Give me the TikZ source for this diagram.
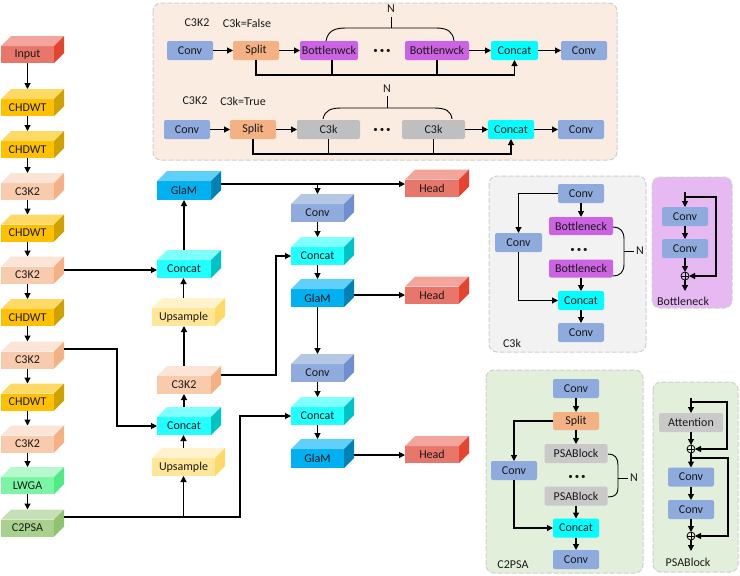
\documentclass[tikz,border=0pt]{standalone}
\usepackage{fontspec}
\setmainfont{Carlito}
\usetikzlibrary{arrows.meta,calc}
% 3D box colours: F front, T top, S side
\definecolor{inF}{HTML}{E9766A}\definecolor{inT}{HTML}{F3A59C}\definecolor{inS}{HTML}{E5452F}
\definecolor{chF}{HTML}{FFC000}\definecolor{chT}{HTML}{FFD966}\definecolor{chS}{HTML}{CFA200}
\definecolor{ckF}{HTML}{F8CBAD}\definecolor{ckT}{HTML}{FCE4D6}\definecolor{ckS}{HTML}{F4B183}
\definecolor{lwF}{HTML}{7CF4A6}\definecolor{lwT}{HTML}{B6F9CC}\definecolor{lwS}{HTML}{4FE985}
\definecolor{c2F}{HTML}{A9D18E}\definecolor{c2T}{HTML}{C5E0B4}\definecolor{c2S}{HTML}{8FC46E}
\definecolor{glF}{HTML}{00B0F0}\definecolor{glT}{HTML}{5ED0FA}\definecolor{glS}{HTML}{0082B4}
\definecolor{ccF}{HTML}{22FFFF}\definecolor{ccT}{HTML}{80FFFF}\definecolor{ccS}{HTML}{00C4C4}
\definecolor{upF}{HTML}{FFE699}\definecolor{upT}{HTML}{FFF2CC}\definecolor{upS}{HTML}{FFD966}
\definecolor{cvF}{HTML}{8FAADC}\definecolor{cvT}{HTML}{B4C7E7}\definecolor{cvS}{HTML}{6F8FCF}
% flat colours
\definecolor{convC}{HTML}{8FAADC}
\definecolor{splitC}{HTML}{F4B183}
\definecolor{bnC}{HTML}{CB63E3}
\definecolor{ckC}{HTML}{BFBFBF}
\definecolor{psaC}{HTML}{C9C9C9}
\definecolor{catC}{HTML}{00FFFF}
% panels
\definecolor{peachP}{HTML}{FBECE2}
\definecolor{grayP}{HTML}{F2F2F2}
\definecolor{purpleP}{HTML}{E7B9F3}
\definecolor{greenP}{HTML}{E2EFDA}
\definecolor{panelB}{HTML}{CFCFCF}
\definecolor{txt}{HTML}{1A1A1A}

\tikzset{
  cubefront/.style={rectangle, inner sep=0pt, outer sep=0pt},
  flat/.style={rectangle, rounded corners=2pt, inner sep=0pt, outer sep=0pt, minimum height=19pt, minimum width=46pt},
  conn/.style={line width=1.1pt},
  arr/.style={conn, -{Triangle[length=6pt,width=6pt]}},
  bracel/.style={line width=0.9pt},
  panel/.style={draw=panelB, dash pattern=on 5pt off 2pt, line width=1pt, rounded corners=8pt},
  oplus/.style={circle, draw, line width=0.8pt, minimum size=8pt, inner sep=0pt, outer sep=0pt,
    path picture={\draw[line width=0.8pt] (path picture bounding box.north) -- (path picture bounding box.south)
      (path picture bounding box.west) -- (path picture bounding box.east);}},
  lbl/.style={inner sep=0pt},
}

% #1 name, #2 x, #3 y, #4 width, #5 height, #6 colour prefix, #7 text
\newcommand\cubebox[7]{%
  \node[cubefront, fill=#6F, minimum width=#4pt, minimum height=#5pt] (#1) at (#2,#3) {#7};
  \fill[#6T] (#1.north west) -- (#1.north east) -- ($(#1.north east)+(10,-10)$) -- ($(#1.north west)+(10,-10)$) -- cycle;
  \fill[#6S] (#1.north east) -- (#1.south east) -- ($(#1.south east)+(10,-10)$) -- ($(#1.north east)+(10,-10)$) -- cycle;
  \coordinate (#1-t) at ($(#1.north)+(0,-10)$);
}

\begin{document}
\begin{tikzpicture}[x=1pt, y=-1pt, font=\fontsize{12}{14}\selectfont, text=txt]
\useasboundingbox (0,0) rectangle (740,576);
\fill[white] (0,0) rectangle (740,576);

% ---------------- panels ----------------
\draw[panel, fill=peachP] (153,3) rectangle (617,160);
\draw[panel, fill=grayP] (489,176) rectangle (646,352);
\draw[panel, fill=purpleP] (652,177) rectangle (732,308);
\draw[panel, fill=greenP] (486,370) rectangle (643,573);
\draw[panel, fill=greenP] (653,382) rectangle (738,572);

% ---------------- left column ----------------
\cubebox{in0}{27.5}{54.5}{53}{17}{in}{Input}
\cubebox{ch1}{27.5}{107.5}{53}{17}{ch}{CHDWT}
\cubebox{ch2}{27.5}{149.5}{53}{17}{ch}{CHDWT}
\cubebox{k1}{27.5}{191.5}{53}{17}{ck}{C3K2}
\cubebox{ch3}{27.5}{233}{53}{17}{ch}{CHDWT}
\cubebox{k2}{27.5}{275}{53}{17}{ck}{C3K2}
\cubebox{ch4}{27.5}{317.5}{53}{17}{ch}{CHDWT}
\cubebox{k3}{27.5}{360}{53}{17}{ck}{C3K2}
\cubebox{ch5}{27.5}{402}{53}{17}{ch}{CHDWT}
\cubebox{k4}{27.5}{444}{53}{17}{ck}{C3K2}
\cubebox{lw}{27.5}{485.5}{53}{17}{lw}{LWGA}
\cubebox{c2}{27.5}{528}{53}{17}{c2}{C2PSA}

\foreach \a/\b in {in0/ch1, ch1/ch2, ch2/k1, k1/ch3, ch3/k2, k2/ch4, ch4/k3, k3/ch5, ch5/k4, k4/lw, lw/c2}
  \draw[arr] (\a) -- (\b-t);

% ---------------- middle column ----------------
\cubebox{gl1}{184}{190.5}{54}{19}{gl}{GlaM}
\cubebox{cc1}{184}{269}{54}{18}{cc}{Concat}
\cubebox{up1}{183.5}{317}{63}{18}{up}{Upsample}
\cubebox{km}{184}{385}{54}{18}{ck}{C3K2}
\cubebox{cc2}{184}{426}{54}{18}{cc}{Concat}
\cubebox{up2}{183.5}{467}{63}{18}{up}{Upsample}

% ---------------- right column ----------------
\cubebox{cv1}{317.5}{213}{53}{18}{cv}{Conv}
\cubebox{cr1}{317.5}{256}{53}{18}{cc}{Concat}
\cubebox{gr1}{317.5}{298}{53}{18}{gl}{GlaM}
\cubebox{cv2}{317.5}{373}{53}{18}{cv}{Conv}
\cubebox{cr2}{317.5}{416}{53}{18}{cc}{Concat}
\cubebox{gr2}{317.5}{458.5}{53}{19}{gl}{GlaM}

\cubebox{hd1}{432}{188}{54}{17}{in}{Head}
\cubebox{hd2}{432}{295}{54}{17}{in}{Head}
\cubebox{hd3}{432}{454.5}{54}{17}{in}{Head}

% ---------------- main connectors ----------------
\coordinate (k2o) at ($(k2.east)+(10,-5)$);
\draw[arr] (k2o) -- (k2o -| cc1.west);
\coordinate (k3o) at ($(k3.east)+(10,-11)$);
\draw[arr] (k3o) -| ($(cc2.west)+(-40,0)$) -- (cc2.west);
\coordinate (c2o) at ($(c2.east)+(10,-11)$);
\draw[arr] (c2o) -| ($(cr2.west)+(-51,0)$) -- (cr2.west);
\draw[arr] (up2.south |- c2o) -- (up2.south);
\draw[arr] (up2-t) -- (up2-t |- cc2.south);
\draw[arr] (cc2-t) -- (km.south);
\draw[arr] (km-t) -- (km-t |- up1.south);
\draw[arr] (up1-t) -- (up1-t |- cc1.south);
\draw[arr] (cc1-t) -- (gl1.south);
\coordinate (kmo) at ($(km.east)+(10,-10)$);
\draw[arr] (kmo) -| ($(cr1.west)+(-15,0)$) -- (cr1.west);
\coordinate (g1o) at ($(gl1.east)+(10,-6.5)$);
\draw[arr] (g1o) -- (g1o -| hd1.west);
\draw[arr] (cv1-t |- g1o) -- (cv1-t);
\draw[arr] (cv1) -- (cr1-t);
\draw[arr] (cr1) -- (gr1-t);
\coordinate (gr1o) at ($(gr1.east)+(10,-3)$);
\draw[arr] (gr1o) -- (gr1o -| hd2.west);
\draw[arr] (gr1) -- (cv2-t);
\draw[arr] (cv2) -- (cr2-t);
\draw[arr] (cr2) -- (gr2-t);
\coordinate (gr2o) at ($(gr2.east)+(10,-3.5)$);
\draw[arr] (gr2o) -- (gr2o -| hd3.west);

% ---------------- top panel : C3K2 ----------------
\node[lbl] (la1) at (197,23) {C3K2};
\node[lbl] (la2) at (247,23) {C3k=False};
\node[flat, fill=convC] (ca1) at (190,50.5) {Conv};
\node[flat, fill=splitC] (sa1) at (256,50.5) {Split};
\node[flat, fill=bnC, minimum width=58pt] (bna) at (329,50.5) {Bottlenwck};
\node[lbl] (da) at (382,51) {\fontsize{9}{10}\selectfont\textbullet\hspace{2pt}\textbullet\hspace{2pt}\textbullet};
\node[flat, fill=bnC, minimum width=64pt] (bnb) at (437,50.5) {Bottlenwck};
\node[flat, fill=catC, minimum width=47pt] (cca) at (514.5,50.5) {Concat};
\node[flat, fill=convC] (ca2) at (584,50.5) {Conv};
\coordinate (ya) at (0,75);
\draw[arr] (ca1) -- (sa1);
\draw[arr] (sa1) -- (bna);
\draw[arr] (bnb) -- (cca);
\draw[arr] (cca) -- (ca2);
\draw[arr] (sa1.south) |- (cca.south |- ya) -- (cca.south);
\draw[conn] ($(bna.south)+(3,0)$) -- ($(bna.south |- ya)+(3,0)$);
\draw[conn] (bnb.south) -- (bnb.south |- ya);
\draw[bracel] (326,41) .. controls (328,31) and (334,28) .. (346,28) -- (436,28) .. controls (448,28) and (453,32) .. (454,41);
\draw[bracel] (391,17) -- (391,28);
\node[lbl] (na) at (391,9) {N};

\node[lbl] (lb1) at (195,101) {C3K2};
\node[lbl] (lb2) at (243,101) {C3k=True};
\node[flat, fill=convC] (cb1) at (187,129.5) {Conv};
\node[flat, fill=splitC] (sb1) at (253,129.5) {Split};
\node[flat, fill=ckC, minimum width=63pt] (k3a) at (328.5,129.5) {C3k};
\node[lbl] (db) at (382,130) {\fontsize{9}{10}\selectfont\textbullet\hspace{2pt}\textbullet\hspace{2pt}\textbullet};
\node[flat, fill=ckC, minimum width=63pt] (k3b) at (433.5,129.5) {C3k};
\node[flat, fill=catC] (ccb) at (511,129.5) {Concat};
\node[flat, fill=convC] (cb2) at (581,129.5) {Conv};
\coordinate (yb) at (0,154);
\draw[arr] (cb1) -- (sb1);
\draw[arr] (sb1) -- (k3a);
\draw[arr] (k3b) -- (ccb);
\draw[arr] (ccb) -- (cb2);
\draw[arr] (sb1.south) |- (ccb.south |- yb) -- (ccb.south);
\draw[conn] (k3a.south) -- (k3a.south |- yb);
\draw[conn] (k3b.south) -- (k3b.south |- yb);
\draw[bracel] (323,119) .. controls (325,110) and (331,108) .. (342,108) -- (434,108) .. controls (446,108) and (451,111) .. (452,119);
\draw[bracel] (387,96) -- (387,108);
\node[lbl] (nb) at (387,89) {N};

% ---------------- C3k panel ----------------
\node[flat, fill=convC] (kt) at (581,193.5) {Conv};
\node[flat, fill=bnC, minimum width=64pt, minimum height=18pt] (kb1) at (581,226) {Bottleneck};
\node[lbl] (kd) at (579,250) {\fontsize{9}{10}\selectfont\textbullet\hspace{2pt}\textbullet\hspace{2pt}\textbullet};
\node[flat, fill=bnC, minimum width=64pt, minimum height=18pt] (kb2) at (581,268.5) {Bottleneck};
\node[flat, fill=catC] (kc) at (581,300.5) {Concat};
\node[flat, fill=convC] (kcb) at (581,332.5) {Conv};
\node[flat, fill=convC, minimum width=47pt] (kl) at (518.5,242.5) {Conv};
\draw[arr] (kt) -- (kb1);
\draw[arr] (kb2) -- (kc);
\draw[arr] (kc) -- (kcb);
\draw[arr] (kt.west) -| (kl.north);
\draw[arr] (kl.south) |- (kc.west);
\draw[bracel] (613,227) .. controls (620,227) and (624,231) .. (624,239) -- (624,264) .. controls (624,272) and (620,276) .. (613,276);
\draw[bracel] (624,251) -- (634,251);
\node[lbl] (kn) at (640,251) {N};
\node[lbl] (kla) at (512,343) {C3k};

% ---------------- Bottleneck panel ----------------
\node[flat, fill=convC] (bc1) at (685,216.5) {Conv};
\node[flat, fill=convC] (bc2) at (685,248.5) {Conv};
\node[oplus] (bp) at (685,276) {};
\coordinate (bin) at (685,192);
\coordinate (bloop) at (685,197);
\coordinate (bout) at (685,291);
\draw[arr] (bin) -- (bc1);
\draw[arr] (bloop) -- (716,197) |- (bp.east);
\draw[arr] (bc1) -- (bc2);
\draw[arr] (bc2) -- (bp);
\draw[arr] (bp) -- (bout);
\node[lbl] (bla) at (683,301) {Bottleneck};

% ---------------- C2PSA panel ----------------
\node[flat, fill=convC] (pt) at (576,388.5) {Conv};
\node[flat, fill=splitC, minimum height=18pt] (ps) at (576,421) {Split};
\node[flat, fill=psaC, minimum width=63pt] (pa1) at (576,453.5) {PSABlock};
\node[lbl] (pd) at (577,477) {\fontsize{9}{10}\selectfont\textbullet\hspace{2pt}\textbullet\hspace{2pt}\textbullet};
\node[flat, fill=psaC, minimum width=63pt] (pa2) at (576,496) {PSABlock};
\node[flat, fill=catC] (pc) at (576,528) {Concat};
\node[flat, fill=convC] (pcb) at (576,559.5) {Conv};
\node[flat, fill=convC] (pl) at (514,470.5) {Conv};
\draw[arr] (pt) -- (ps);
\draw[arr] (ps) -- (pa1);
\draw[arr] (pa2) -- (pc);
\draw[arr] (pc) -- (pcb);
\draw[arr] (ps.west) -| (pl.north);
\draw[arr] (pl.south) |- (pc.west);
\draw[bracel] (608,454) .. controls (615,454) and (618,458) .. (618,465) -- (618,488) .. controls (618,494) and (615,497) .. (608,497);
\draw[bracel] (618,478) -- (628,478);
\node[lbl] (pn) at (634,478) {N};
\node[lbl] (pla) at (513,565) {C2PSA};

% ---------------- PSABlock panel ----------------
\node[flat, fill=psaC, minimum width=64pt] (aa) at (691,422.5) {Attention};
\node[oplus] (ap1) at (691,449) {};
\node[flat, fill=convC] (ac1) at (691,477) {Conv};
\node[flat, fill=convC] (ac2) at (691,509.5) {Conv};
\node[oplus] (ap2) at (691,536) {};
\coordinate (ain) at (691,398);
\coordinate (aloop1) at (691,402);
\coordinate (aloop2) at (691,458);
\coordinate (aout) at (691,551);
\draw[arr] (ain) -- (aa);
\draw[arr] (aloop1) -- (727,402) |- (ap1.east);
\draw[arr] (aa) -- (ap1);
\draw[arr] (ap1) -- (ac1);
\draw[arr] (aloop2) -- (728,458) |- (ap2.east);
\draw[arr] (ac1) -- (ac2);
\draw[arr] (ac2) -- (ap2);
\draw[arr] (ap2) -- (aout);
\node[lbl] (ala) at (688,562) {PSABlock};
\end{tikzpicture}
\end{document}
